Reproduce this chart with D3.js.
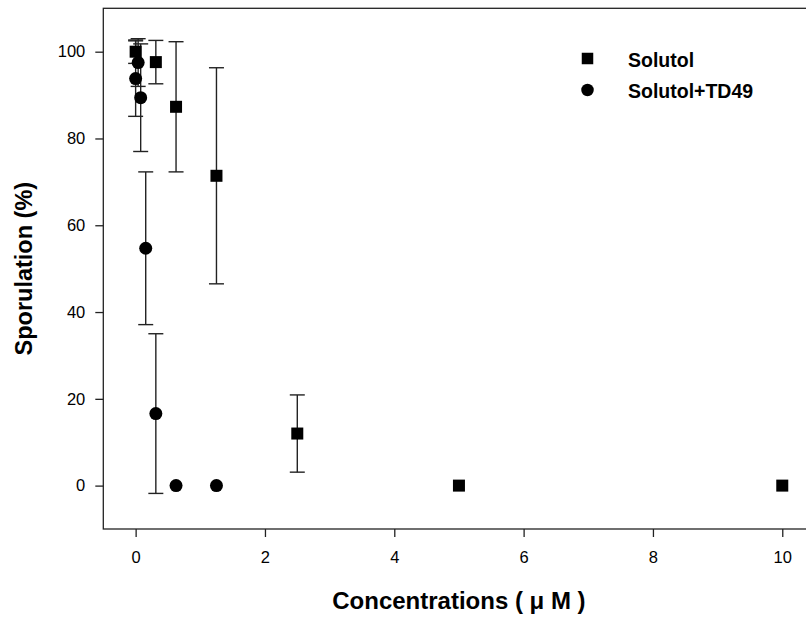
<!DOCTYPE html>
<html>
<head>
<meta charset="utf-8">
<script src="https://cdn.jsdelivr.net/npm/d3@7"></script>
<style>
  html, body { margin: 0; padding: 0; background: #fff; }
  svg text { font-family: "Liberation Sans", Arial, sans-serif; fill: #000; }
</style>
</head>
<body>
<div id="chart"></div>
<script>
// Solutol alone (squares)
const solutolConc = [0, 0.3125, 0.625, 1.25, 2.5, 5, 10];
const solutolMean = [100, 97.6, 87.3, 71.4, 12, 0, 0];
const solutolSd = [2.7, 5, 15, 24.9, 8.9, 0, 0];

// Solutol + TD49 (circles)
const td49Conc = [0, 0.039, 0.078, 0.156, 0.3125, 0.625, 1.25];
const td49Mean = [93.8, 97.5, 89.4, 54.7, 16.6, 0, 0];
const td49Sd = [8.7, 5.5, 12.4, 17.6, 18.4, 0, 0];

const xTicks = [0, 2, 4, 6, 8, 10];
const yTicks = [0, 20, 40, 60, 80, 100];
const legendLabels = ['Solutol', 'Solutol+TD49'];

const width = 806, height = 617;
const margin = { left: 103.3, top: 8.3, right: -8.6, bottom: 88 };

const svg = d3.select('#chart').append('svg')
  .attr('width', width)
  .attr('height', height);

const x = d3.scaleLinear().domain([-0.5, 10.5]).range([margin.left, width - margin.right]);
const y = d3.scaleLinear().domain([-10, 110]).range([height - margin.bottom, margin.top]);

const series = [
  { conc: solutolConc, mean: solutolMean, sd: solutolSd, shape: 'square' },
  { conc: td49Conc, mean: td49Mean, sd: td49Sd, shape: 'circle' }
];

//
// frame
//
svg.append('rect')
  .attr('x', x(-0.5))
  .attr('y', y(110))
  .attr('width', x(10.5) - x(-0.5))
  .attr('height', y(-10) - y(110))
  .attr('fill', 'none')
  .attr('stroke', '#222')
  .attr('stroke-width', 1.3);

//
// axes
//
const xAxis = svg.append('g')
  .attr('transform', `translate(0,${y(-10)})`)
  .call(d3.axisBottom(x).tickValues(xTicks).tickSize(8).tickPadding(14).tickFormat(d3.format('d')));

const yAxis = svg.append('g')
  .attr('transform', `translate(${x(-0.5)},0)`)
  .call(d3.axisLeft(y).tickValues(yTicks).tickSize(8).tickPadding(10).tickFormat(d3.format('d')));

[xAxis, yAxis].forEach(a => {
  a.select('.domain').remove();
  a.selectAll('line').attr('stroke', '#222').attr('stroke-width', 1.3);
  a.selectAll('text')
    .attr('font-family', '"Liberation Sans", Arial, sans-serif')
    .attr('font-size', 16.5)
    .attr('fill', '#000');
});

//
// error bars
//
const capHalf = 7.5;
series.forEach(s => {
  const pts = s.conc.map((c, i) => ({ c, m: s.mean[i], sd: s.sd[i] })).filter(d => d.sd > 0);
  const g = svg.append('g').attr('stroke', '#222').attr('stroke-width', 1.4);
  g.selectAll('line.v').data(pts).enter().append('line')
    .attr('x1', d => x(d.c)).attr('x2', d => x(d.c))
    .attr('y1', d => y(d.m + d.sd)).attr('y2', d => y(d.m - d.sd));
  g.selectAll('line.t').data(pts).enter().append('line')
    .attr('x1', d => x(d.c) - capHalf).attr('x2', d => x(d.c) + capHalf)
    .attr('y1', d => y(d.m + d.sd)).attr('y2', d => y(d.m + d.sd));
  g.selectAll('line.b').data(pts).enter().append('line')
    .attr('x1', d => x(d.c) - capHalf).attr('x2', d => x(d.c) + capHalf)
    .attr('y1', d => y(d.m - d.sd)).attr('y2', d => y(d.m - d.sd));
});

//
// markers
//
function drawMarker(g, shape, cx, cy, size) {
  if (shape === 'square') {
    g.append('rect')
      .attr('x', cx - size / 2).attr('y', cy - size / 2)
      .attr('width', size).attr('height', size)
      .attr('fill', '#000');
  } else {
    g.append('circle')
      .attr('cx', cx).attr('cy', cy).attr('r', size / 2 + 0.5)
      .attr('fill', '#000');
  }
}

series.forEach(s => {
  const g = svg.append('g');
  s.conc.forEach((c, i) => drawMarker(g, s.shape, x(c), y(s.mean[i]), 12));
});

//
// legend
//
const legend = svg.append('g');
legendLabels.forEach((label, i) => {
  const ly = 58.5 + i * 31.5;
  drawMarker(legend, series[i].shape, 587.5, ly, 11.5);
  legend.append('text')
    .attr('x', 628)
    .attr('y', ly + 8)
    .attr('font-size', 19.5)
    .attr('font-weight', 'bold')
    .text(label);
});

//
// axis titles
//
svg.append('text')
  .attr('x', (x(-0.5) + x(10.5)) / 2)
  .attr('y', 609)
  .attr('text-anchor', 'middle')
  .attr('font-size', 24)
  .attr('font-weight', 'bold')
  .text('Concentrations ( \u03bc M )');

svg.append('text')
  .attr('transform', `translate(31.5,${(y(110) + y(-10)) / 2}) rotate(-90)`)
  .attr('text-anchor', 'middle')
  .attr('font-size', 23.5)
  .attr('font-weight', 'bold')
  .text('Sporulation (%)');
</script>
</body>
</html>
